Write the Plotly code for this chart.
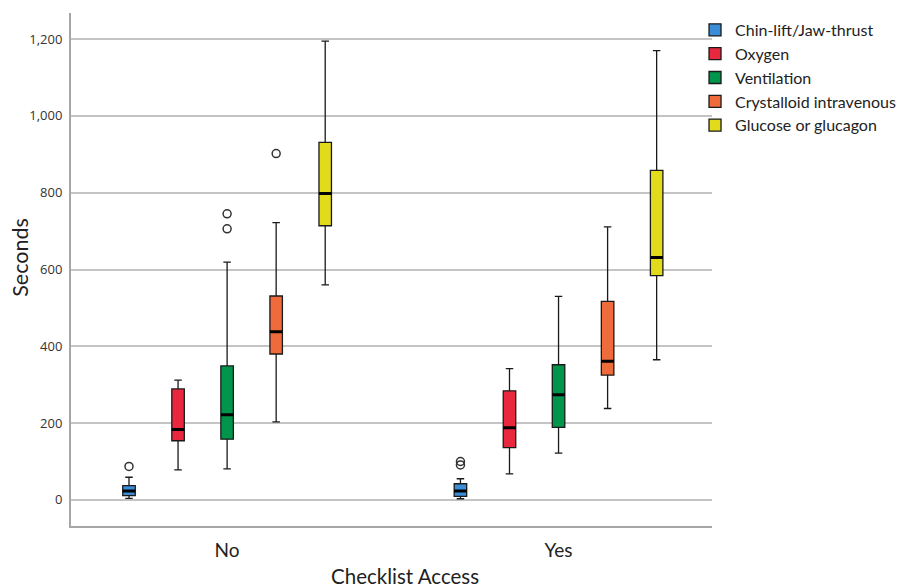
import plotly.graph_objects as go

groups = ["No", "Yes"]
treatments = ["Chin-lift/Jaw-thrust", "Oxygen", "Ventilation",
              "Crystalloid intravenous", "Glucose or glucagon"]
colors = ["#3A8DD6", "#E8283E", "#01944B", "#F06B3B", "#E2DB1C"]

# stats per treatment: [No, Yes]
lower = [[4, 3], [78, 68], [81, 122], [203, 238], [560, 365]]
q1 = [[11, 9], [154, 136], [158, 189], [380, 325], [714, 584]]
median = [[23, 23], [183, 188], [222, 274], [438, 361], [798, 631]]
q3 = [[37, 42], [289, 284], [349, 352], [531, 517], [931, 858]]
upper = [[59, 55], [312, 342], [619, 530], [722, 711], [1195, 1170]]
outliers = [[[87], [100, 91]], [[], []], [[745, 706], []], [[902], []], [[], []]]

y_ticks = [0, 200, 400, 600, 800, 1000, 1200]

fig = go.Figure()
for i, name in enumerate(treatments):
    has_pts = any(len(p) for p in outliers[i])
    fig.add_trace(go.Box(
        name=name, x=groups, y=outliers[i] if has_pts else None,
        orientation="v",
        q1=q1[i], median=median[i], q3=q3[i],
        lowerfence=lower[i], upperfence=upper[i],
        boxpoints="outliers" if has_pts else False, offsetgroup=str(i),
        fillcolor=colors[i],
        line=dict(color="#1a1a1a", width=1.3),
        whiskerwidth=0.6,
        marker=dict(symbol="circle-open", color="#333333", size=8,
                    line=dict(width=1.5, color="#333333"),
                    outliercolor="#333333"),
        hoverinfo="skip",
    ))
for i, name in enumerate(treatments):
    fig.add_trace(go.Box(
        name=name + " median", x=groups, orientation="v",
        q1=median[i], median=median[i], q3=median[i],
        lowerfence=median[i], upperfence=median[i],
        boxpoints=False, offsetgroup=str(i),
        fillcolor="rgba(0,0,0,0)",
        line=dict(color="#000000", width=3),
        whiskerwidth=0,
        showlegend=False, hoverinfo="skip",
    ))

fig.update_layout(
    width=897, height=579,
    margin=dict(l=63, r=192, t=5, b=61),
    paper_bgcolor="white", plot_bgcolor="white",
    boxmode="group", boxgap=0.26, boxgroupgap=0.745,
    font=dict(family="Lato, sans-serif", color="#222222"),
    showlegend=True,
    legend=dict(x=0.972, y=1.0, xanchor="left", yanchor="top",
                xref="paper", yref="paper",
                font=dict(size=16, family="Lato, sans-serif", color="#222222"),
                itemwidth=30, tracegroupgap=0,
                bgcolor="rgba(0,0,0,0)"),
    xaxis=dict(type="category", categoryarray=groups, categoryorder="array",
               range=[-0.471, 1.463], showgrid=False, zeroline=False,
               showline=True, linecolor="#a6a6a6", linewidth=2,
               ticks="", tickfont=dict(size=19, family="Lato, sans-serif",
                                       color="#222222"),
               ticklabelstandoff=6),
    yaxis=dict(range=[-68, 1268], tickvals=y_ticks, tickformat=",d",
               showgrid=True, gridcolor="#c4c4c4", gridwidth=1.5,
               zeroline=False, showline=True, linecolor="#a6a6a6", linewidth=2,
               ticks="", tickfont=dict(size=13, family="Open Sans, sans-serif",
                                       color="#333333"),
               ticklabelstandoff=4),
    annotations=[
        dict(text="Seconds", xref="paper", yref="paper", x=-0.0795, y=0.523,
             xanchor="center", yanchor="middle", textangle=-90, showarrow=False,
             font=dict(size=21.5, family="Lato, sans-serif", color="#222222")),
        dict(text="Checklist Access", xref="paper", yref="paper", x=0.5205, y=-0.098,
             xanchor="center", yanchor="middle", showarrow=False,
             font=dict(size=20.5, family="Lato, sans-serif", color="#222222")),
    ],
)

fig.write_html("out.html")
